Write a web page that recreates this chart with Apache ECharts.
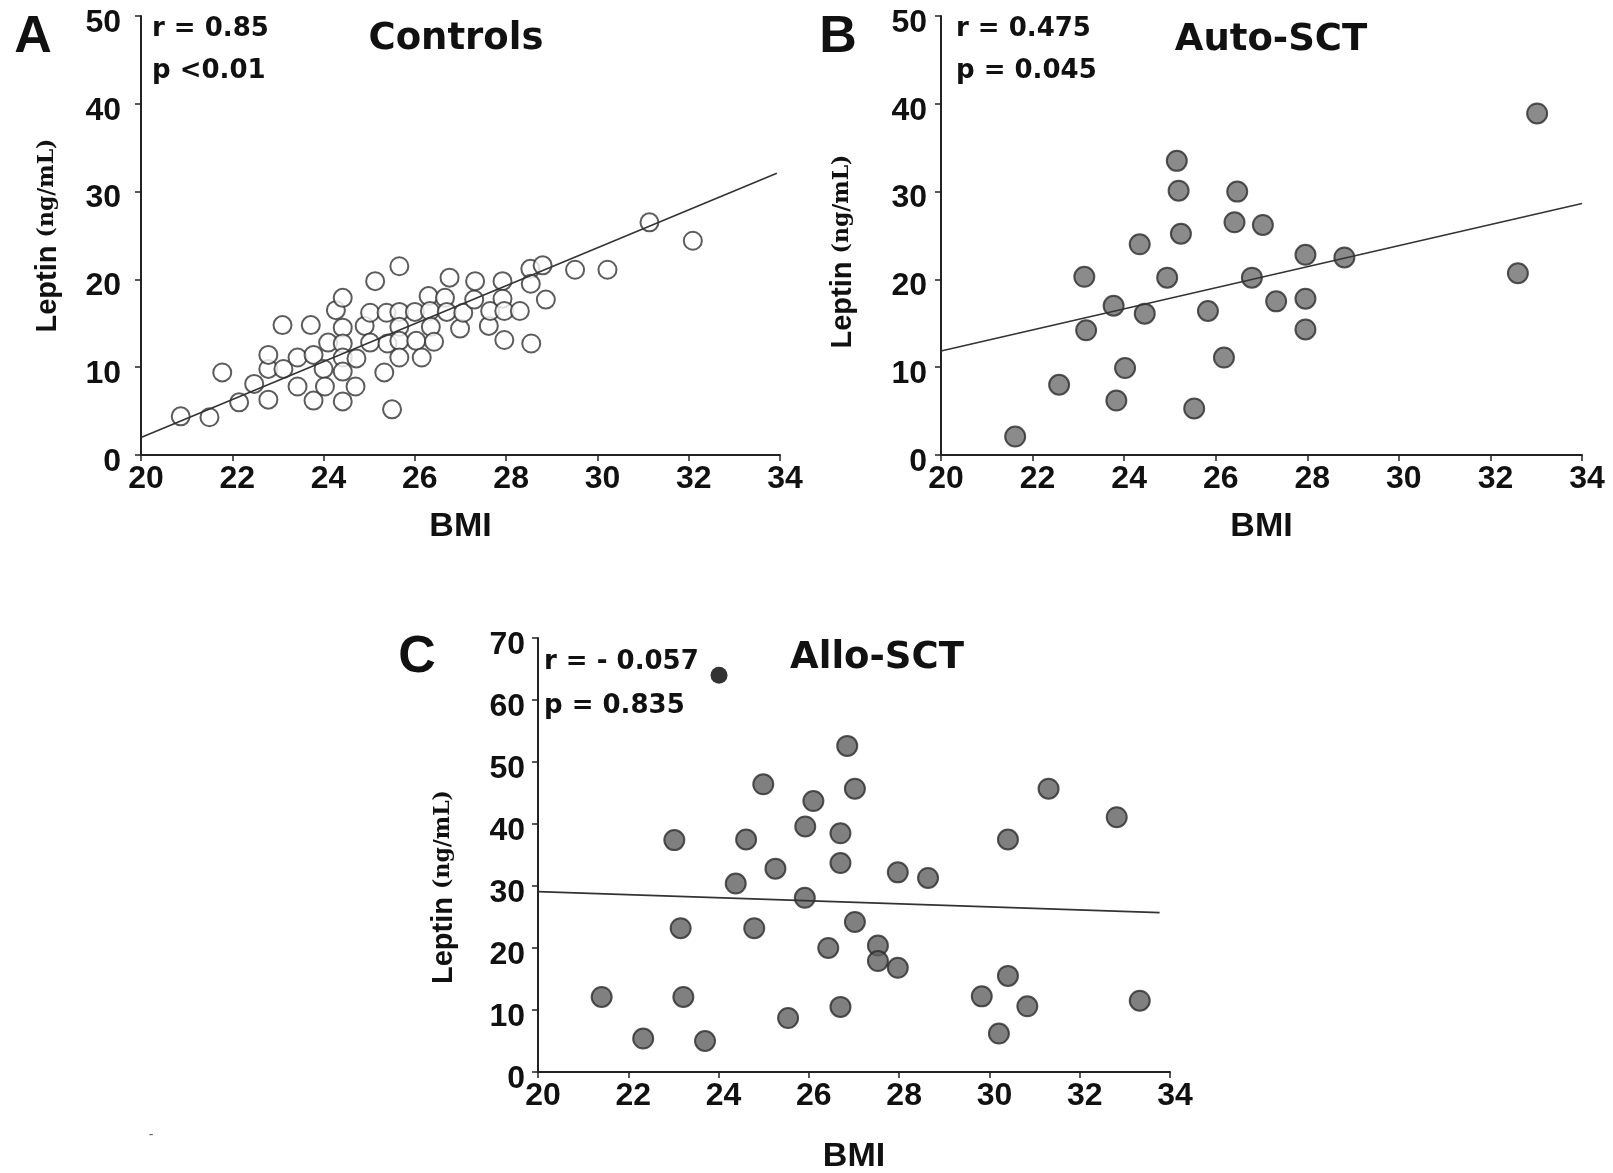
<!DOCTYPE html>
<html>
<head>
<meta charset="utf-8">
<title>Leptin vs BMI</title>
<script src="https://cdn.jsdelivr.net/npm/echarts@6/dist/echarts.min.js"></script>
<style>
  html, body { margin: 0; padding: 0; background: #fff; }
  #chart { width: 1613px; height: 1173px; }
</style>
</head>
<body>
<div id="chart"></div>
<script>
// [BMI, leptin ng/mL]
const controls = [
  [20.87, 4.4], [21.50, 4.3], [21.78, 9.4], [22.15, 6.0], [22.48, 8.1], [22.79, 6.3],
  [22.79, 9.8], [22.79, 11.4], [23.12, 9.8], [23.10, 14.8], [23.43, 7.8], [23.43, 11.1],
  [23.72, 14.8], [23.78, 6.2], [23.78, 11.4], [24.00, 9.8], [24.03, 7.8], [24.10, 12.8],
  [24.27, 16.5], [24.42, 17.9], [24.42, 14.5], [24.42, 12.7], [24.42, 11.1], [24.42, 9.5],
  [24.42, 6.1], [24.72, 11.0], [24.70, 7.8], [24.90, 14.7], [25.02, 16.2], [25.02, 12.8],
  [25.13, 19.8], [25.33, 9.4], [25.38, 16.2], [25.40, 12.7], [25.50, 5.2], [25.66, 21.5],
  [25.66, 16.3], [25.66, 14.6], [25.66, 13.0], [25.66, 11.1], [26.00, 16.3], [26.03, 13.0],
  [26.15, 11.1], [26.30, 18.1], [26.33, 16.4], [26.35, 14.6], [26.42, 12.9], [26.66, 17.9],
  [26.70, 16.3], [26.76, 20.2], [26.99, 14.4], [27.06, 16.2], [27.30, 17.7], [27.32, 19.8],
  [27.62, 14.7], [27.65, 16.4], [27.92, 19.8], [27.92, 17.8], [27.96, 16.4], [27.96, 13.1],
  [28.30, 16.4], [28.53, 21.2], [28.54, 19.5], [28.55, 12.7], [28.80, 21.6], [28.87, 17.7],
  [29.51, 21.1], [30.22, 21.1], [31.14, 26.5], [32.09, 24.4]
];
const controlsFit = [[20, 2.0], [33.93, 32.1]];

const autoSct = [
  [21.62, 2.1], [22.58, 8.0], [23.13, 20.3], [23.17, 14.2], [23.77, 17.0], [23.83, 6.2],
  [24.02, 9.9], [24.34, 24.0], [24.45, 16.1], [24.94, 20.2], [25.15, 33.5], [25.19, 30.1],
  [25.24, 25.2], [25.53, 5.3], [25.83, 16.4], [26.18, 11.1], [26.47, 30.0], [26.41, 26.5],
  [27.03, 26.2], [26.79, 20.2], [27.32, 17.5], [27.96, 22.8], [27.96, 17.8], [27.96, 14.3],
  [28.81, 22.5], [32.60, 20.7], [33.02, 38.9]
];
const autoFit = [[20, 11.85], [34, 28.65]];

const alloSct = [
  [21.41, 12.1], [22.33, 5.4], [23.02, 37.4], [23.16, 23.2], [23.22, 12.1], [23.70, 5.0],
  [24.38, 30.4], [24.61, 37.5], [24.79, 23.2], [24.99, 46.4], [25.26, 32.8], [25.54, 8.7],
  [25.92, 39.6], [25.91, 28.1], [26.10, 43.7], [26.43, 20.0], [26.70, 38.5], [26.70, 33.7],
  [26.70, 10.5], [26.85, 52.6], [27.02, 45.7], [27.02, 24.2], [27.53, 20.4], [27.53, 17.9],
  [27.97, 32.2], [27.97, 16.8], [28.64, 31.3], [29.83, 12.2], [30.21, 6.2], [30.41, 37.5],
  [30.41, 15.5], [30.84, 10.6], [31.31, 45.7], [32.82, 41.1], [33.33, 11.5]
];
const alloOutlier = [[24.01, 64.0]];
const alloFit = [[20, 29.1], [33.77, 25.7]];

const FONT = '"Liberation Sans", Arial, Helvetica, sans-serif';
const WIDE = '"DejaVu Sans", Verdana, sans-serif';
const SERIF = '"DejaVu Serif", "Liberation Serif", serif';
const INK = '#111';

function xAxisFor(gridIndex, nameGap) {
  return {
    gridIndex, type: 'value', min: 20, max: 34, interval: 2,
    name: 'BMI', nameLocation: 'middle', nameGap,
    nameTextStyle: { fontFamily: FONT, fontWeight: 'bold', fontSize: 34, color: INK },
    axisLine: { onZero: false, lineStyle: { color: '#222', width: 2 } },
    axisTick: { length: 6, lineStyle: { color: '#222', width: 1.5 } },
    axisLabel: { margin: 8, fontFamily: FONT, fontWeight: 'bold', fontSize: 32, color: INK, padding: [0, 0, 0, 10] },
    splitLine: { show: false }
  };
}

function yAxisFor(gridIndex, max, labelMargin, nameGap, shift) {
  return {
    gridIndex, type: 'value', min: 0, max, interval: 10,
    name: '{a|Leptin }{b|(ng/mL)}', nameLocation: 'middle', nameGap, nameRotate: 90,
    nameTextStyle: {
      padding: [0, shift, 0, 0],
      rich: {
        a: { fontFamily: FONT, fontWeight: 'bold', fontSize: 29, color: INK },
        b: { fontFamily: SERIF, fontWeight: 'bold', fontSize: 22, color: INK }
      }
    },
    axisLine: { onZero: false, lineStyle: { color: '#222', width: 2 } },
    axisTick: { length: 6, lineStyle: { color: '#222', width: 1.5 } },
    axisLabel: {
      margin: labelMargin, fontFamily: FONT, fontWeight: 'bold', fontSize: 32, color: INK,
      verticalAlign: 'top', lineHeight: 14
    },
    splitLine: { show: false }
  };
}

function fitLine(data, idx) {
  return {
    type: 'line', data, xAxisIndex: idx, yAxisIndex: idx,
    symbol: 'none', silent: true,
    lineStyle: { color: '#333', width: 1.6 }
  };
}

function label(text, x, y, size, align, family) {
  return {
    type: 'text', x, y,
    style: {
      text, fontFamily: family || WIDE, fontWeight: 'bold', fontSize: size, fill: INK,
      align: align || 'left', verticalAlign: 'middle'
    }
  };
}

const chart = echarts.init(document.getElementById('chart'));
chart.setOption({
  animation: false,
  backgroundColor: '#fff',
  grid: [
    { left: 141, top: 16, width: 639, height: 439, outerBoundsMode: 'none' },
    { left: 941, top: 16, width: 641, height: 439, outerBoundsMode: 'none' },
    { left: 538, top: 638, width: 632, height: 434, outerBoundsMode: 'none' }
  ],
  xAxis: [xAxisFor(0, 55), xAxisFor(1, 55), xAxisFor(2, 68)],
  yAxis: [yAxisFor(0, 50, 20, 79, 0), yAxisFor(1, 50, 14, 84, 32), yAxisFor(2, 70, 13, 80, 64)],
  series: [
    {
      type: 'scatter', data: controls, xAxisIndex: 0, yAxisIndex: 0,
      symbol: 'circle', symbolSize: 18,
      itemStyle: { color: '#fff', borderColor: '#333', borderWidth: 2 }
    },
    fitLine(controlsFit, 0),
    {
      type: 'scatter', data: autoSct, xAxisIndex: 1, yAxisIndex: 1,
      symbol: 'circle', symbolSize: 20,
      itemStyle: { color: '#6e6e6e', borderColor: '#2b2b2b', borderWidth: 2 }
    },
    fitLine(autoFit, 1),
    {
      type: 'scatter', data: alloSct, xAxisIndex: 2, yAxisIndex: 2,
      symbol: 'circle', symbolSize: 20,
      itemStyle: { color: '#606060', borderColor: '#2b2b2b', borderWidth: 2 }
    },
    {
      type: 'scatter', data: alloOutlier, xAxisIndex: 2, yAxisIndex: 2,
      symbol: 'circle', symbolSize: 17,
      itemStyle: { color: '#000' }
    },
    fitLine(alloFit, 2)
  ],
  graphic: [
    label('A', 33, 38, 52, 'center', FONT),
    label('r = 0.85', 152, 29, 26),
    label('p <0.01', 152, 71, 26),
    label('Controls', 456, 39, 37, 'center'),

    label('B', 838, 38, 52, 'center', FONT),
    label('r = 0.475', 956, 29, 26),
    label('p = 0.045', 956, 71, 26),
    label('Auto-SCT', 1271, 40, 37, 'center'),

    label('C', 417, 658, 52, 'center', FONT),
    label('r = - 0.057', 544, 662, 26),
    label('p = 0.835', 544, 706, 26),
    label('Allo-SCT', 877, 658, 37, 'center'),

    { type: 'text', x: 151, y: 1135, style: { text: '-', fontSize: 14, fill: '#666', align: 'center', verticalAlign: 'middle' } }
  ]
});
</script>
</body>
</html>
